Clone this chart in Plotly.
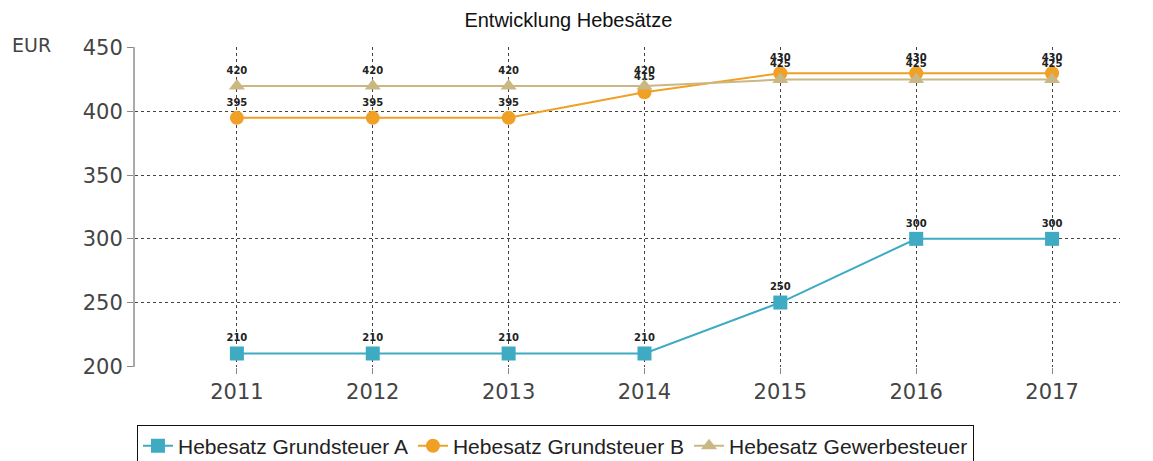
import plotly.graph_objects as go

years = [2011, 2012, 2013, 2014, 2015, 2016, 2017]
grundsteuer_a = [210, 210, 210, 210, 250, 300, 300]
grundsteuer_b = [395, 395, 395, 415, 430, 430, 430]
gewerbesteuer = [420, 420, 420, 420, 425, 425, 425]

series = [
    ("Hebesatz Grundsteuer A", grundsteuer_a, "#3eabc3", "square"),
    ("Hebesatz Grundsteuer B", grundsteuer_b, "#efa025", "circle"),
    ("Hebesatz Gewerbesteuer", gewerbesteuer, "#c9b883", "triangle-up"),
]

fig = go.Figure()
for name, vals, color, symbol in series:
    fig.add_trace(go.Scatter(
        x=years, y=vals, name=name,
        mode="lines+markers+text",
        line=dict(color=color, width=2),
        marker=dict(color=color, symbol=symbol, size=14),
        text=[str(v) for v in vals],
        textposition="top center",
        textfont=dict(family="DejaVu Sans", size=10, color="#222222", weight="bold"),
        cliponaxis=False,
    ))

grid = dict(showgrid=True, gridcolor="#444444", griddash="3px,3px", gridwidth=1.3)

# the page adds an 8px offset, so margins are shifted to land the plot at 135..1120 / 47..367
fig.update_layout(
    width=1153, height=461,
    margin=dict(l=127, r=41, t=39, b=102, autoexpand=False),
    paper_bgcolor="white", plot_bgcolor="white",
    title=dict(text="Entwicklung Hebesätze", x=0.486, xref="container", xanchor="center",
               y=0.973, yanchor="middle",
               font=dict(family="Liberation Sans", size=20, color="#111111")),
    showlegend=True,
    legend=dict(orientation="h", x=0.002, xanchor="left", y=-0.18, yanchor="top",
                bordercolor="#111111", borderwidth=1,
                font=dict(family="Liberation Sans", size=21, color="#222222"),
                itemwidth=30, tracegroupgap=0),
    xaxis=dict(range=[2010.25, 2017.5], tickvals=years, **grid,
               zeroline=False, showline=False,
               ticks="outside", ticklen=6, tickcolor="#888888",
               tickfont=dict(family="DejaVu Sans", size=21, color="#444444")),
    yaxis=dict(range=[199.4, 450.6], tickvals=[200, 250, 300, 350, 400, 450], **grid,
               zeroline=False, showline=True, linecolor="#aaaaaa", linewidth=2,
               ticks="outside", ticklen=6, tickcolor="#888888",
               tickfont=dict(family="DejaVu Sans", size=21, color="#444444")),
    annotations=[dict(text="EUR", xref="paper", yref="paper", x=-0.127, y=1.006,
                      xanchor="left", yanchor="middle", showarrow=False,
                      font=dict(family="DejaVu Sans", size=19, color="#444444"))],
)

fig.write_html("out.html")
